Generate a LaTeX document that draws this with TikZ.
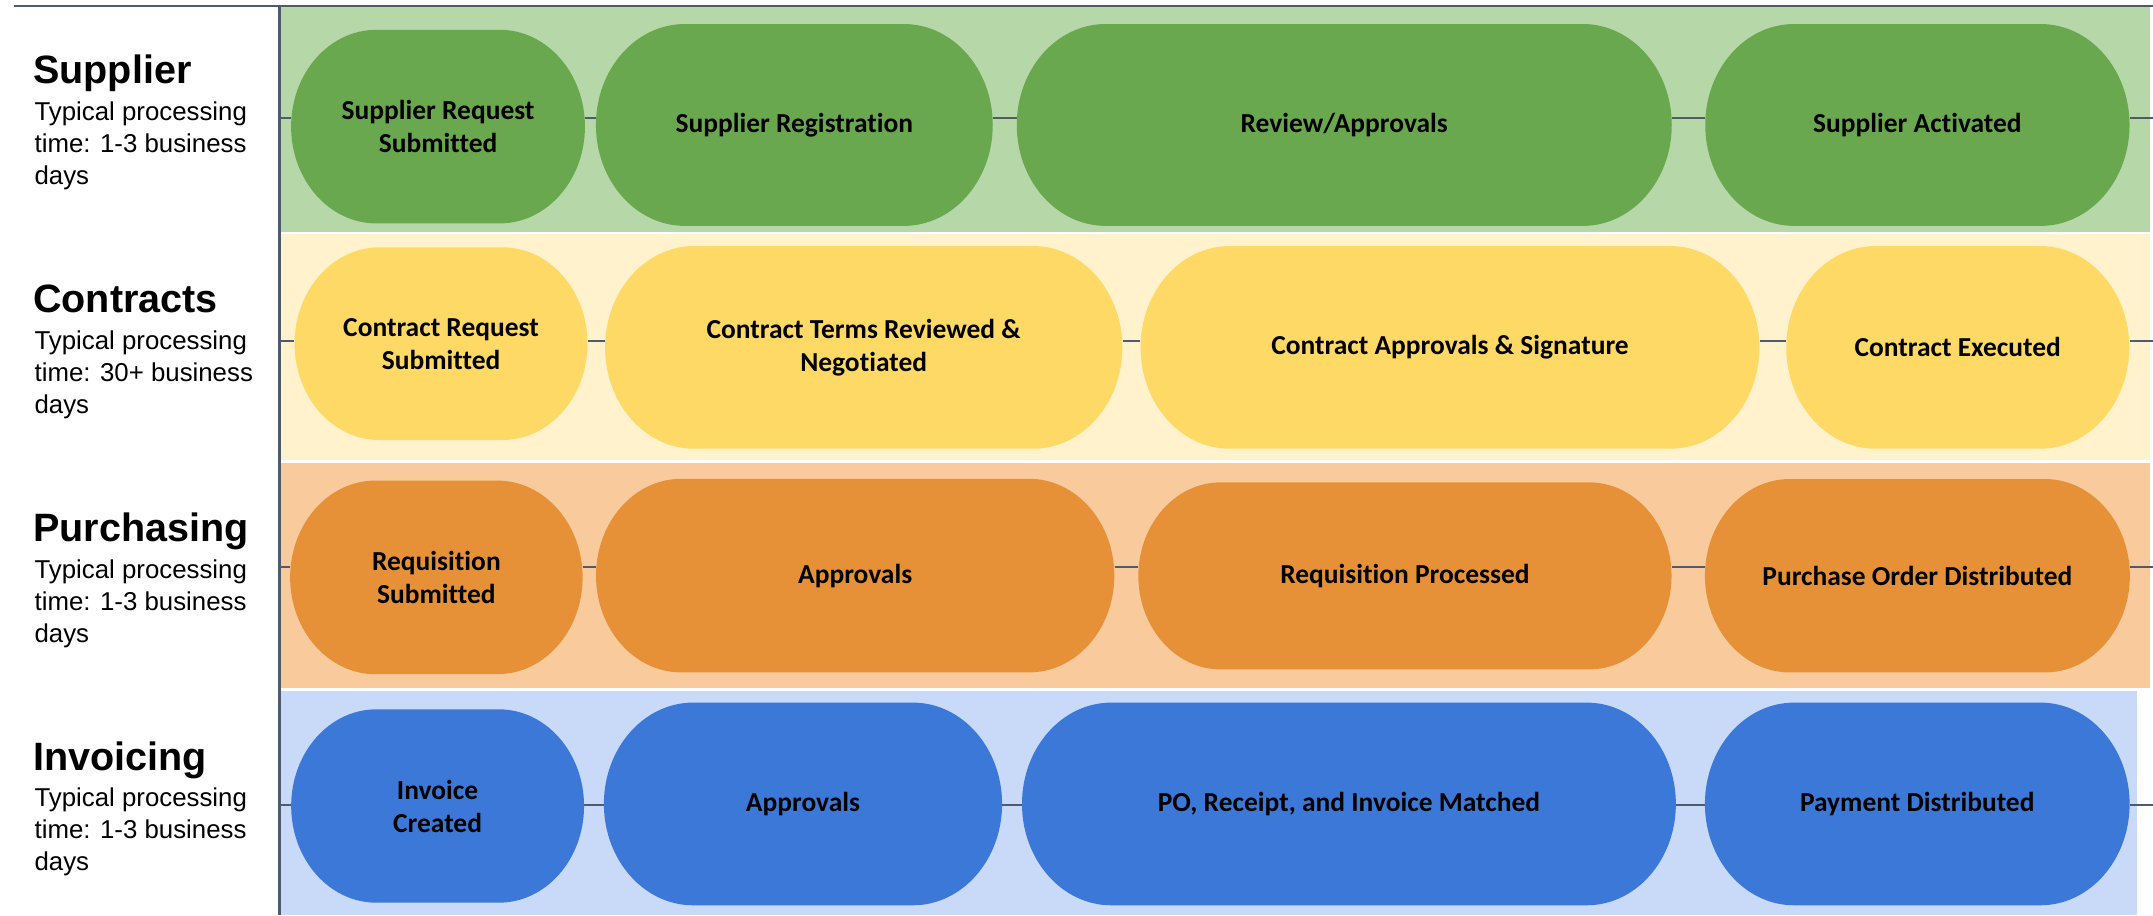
\documentclass[tikz,border=0pt]{standalone}
\usepackage{fontspec}
\setmainfont{Liberation Sans}
\newfontfamily\stagefont{Carlito}[Ligatures={NoCommon}]
\definecolor{lineC}{HTML}{4E5B6E}
\definecolor{supBand}{HTML}{B6D7A8}
\definecolor{supNode}{HTML}{6AA84F}
\definecolor{conBand}{HTML}{FFF2CC}
\definecolor{conNode}{HTML}{FFD966}
\definecolor{purBand}{HTML}{F9CB9C}
\definecolor{purNode}{HTML}{E69138}
\definecolor{invBand}{HTML}{C9DAF8}
\definecolor{invNode}{HTML}{3C78D8}
\pgfdeclarelayer{bands}
\pgfdeclarelayer{lines}
\pgfdeclarelayer{shapes}
\pgfsetlayers{bands,lines,shapes,main}
\tikzset{
  stagetext/.style={rectangle, inner sep=0pt, align=center, text=black,
    font=\stagefont\bfseries\fontsize{20}{24}\selectfont},
  conn/.style={draw=lineC, line width=1.5pt},
  frame/.style={draw=lineC, line width=1.6pt},
  head/.style={anchor=base west, inner sep=0pt, font=\bfseries\fontsize{28.8}{34}\selectfont},
  subtext/.style={anchor=base west, inner sep=0pt, font=\fontsize{18.8}{23}\selectfont},
}
% name, cx, cy, w, h, colour, text
\newcommand\stagenode[7]{%
  \begin{pgfonlayer}{shapes}
    \fill[#6] ({#2-#4/2+0.44*#5},{#3-#5/2}) -- ({#2+#4/2-0.44*#5},{#3-#5/2})
      arc[start angle=-90,end angle=90,x radius={0.44*#5},y radius={#5/2}]
      -- ({#2-#4/2+0.44*#5},{#3+#5/2})
      arc[start angle=90,end angle=270,x radius={0.44*#5},y radius={#5/2}] -- cycle;
  \end{pgfonlayer}
  \node[stagetext, minimum width=#4pt, minimum height=#5pt] (#1) at (#2,#3) {#7};
}
\begin{document}
\begin{tikzpicture}[x=1pt,y=-1pt]
\useasboundingbox (0,0) rectangle (1568,666.4);
\begin{pgfonlayer}{bands}
  \fill[white] (0,0) rectangle (1568,666.4);
  \fill[supBand] (205,5.3) rectangle (1566,168.7);
  \fill[conBand] (205,170.6) rectangle (1566,335);
  \fill[purBand] (205,337) rectangle (1566,501);
  \fill[invBand] (205,503.2) rectangle (1556,666.4);
\end{pgfonlayer}

% lane labels
\node[head] (supH) at (24,60.7) {Supplier};
\node[subtext] (supT1) at (25,87.9) {Typical processing};
\node[subtext] (supT2) at (25,111.2) {time: 1-3 business};
\node[subtext] (supT3) at (25,134.5) {days};

\node[head] (conH) at (24,227.7) {Contracts};
\node[subtext] (conT1) at (25,254.4) {Typical processing};
\node[subtext] (conT2) at (25,277.7) {time: 30+ business};
\node[subtext] (conT3) at (25,301) {days};

\node[head] (purH) at (24,394.5) {Purchasing};
\node[subtext] (purT1) at (25,421.2) {Typical processing};
\node[subtext] (purT2) at (25,444.5) {time: 1-3 business};
\node[subtext] (purT3) at (25,467.8) {days};

\node[head] (invH) at (24,561.3) {Invoicing};
\node[subtext] (invT1) at (25,587.5) {Typical processing};
\node[subtext] (invT2) at (25,610.8) {time: 1-3 business};
\node[subtext] (invT3) at (25,634.1) {days};

% stages
\stagenode{S1}{319}{92.2}{214}{141}{supNode}{Supplier Request\\Submitted}
\stagenode{S2}{578.5}{91}{289}{147}{supNode}{Supplier Registration}
\stagenode{S3}{979}{91}{477}{147}{supNode}{Review/Approvals}
\stagenode{S4}{1396.4}{91}{309}{147}{supNode}{Supplier Activated}

\stagenode{C1}{321.2}{250.3}{213.3}{140.3}{conNode}{Contract Request\\Submitted}
\stagenode{C2}{629}{253}{376.7}{147.6}{conNode}{Contract Terms Reviewed \&\\Negotiated}
\stagenode{C3}{1056}{253}{450.7}{147.6}{conNode}{Contract Approvals \& Signature}
\stagenode{C4}{1425.8}{253}{249.8}{147.6}{conNode}{Contract Executed}

\stagenode{P1}{317.8}{420.5}{213}{141}{purNode}{Requisition\\Submitted}
\stagenode{P2}{622.8}{419.2}{377.5}{141}{purNode}{Approvals}
\stagenode{P3}{1023.2}{419.4}{388.3}{136.2}{purNode}{Requisition Processed}
\stagenode{P4}{1396.4}{419.3}{309.5}{140.9}{purNode}{Purchase Order Distributed}

\stagenode{I1}{318.7}{587}{213.3}{140.8}{invNode}{Invoice\\Created}
\stagenode{I2}{584.8}{585.5}{290}{147.6}{invNode}{Approvals}
\stagenode{I3}{982.4}{585.5}{476.2}{147.6}{invNode}{PO, Receipt, and Invoice Matched}
\stagenode{I4}{1396.3}{585.5}{309.3}{147.6}{invNode}{Payment Distributed}

\begin{pgfonlayer}{lines}
  \coordinate (topL) at (10,4.4);
  \coordinate (topR) at (1568,4.4);
  \coordinate (axT) at (203.5,4.4);
  \coordinate (axB) at (203.5,666.4);
  \draw[frame] (topL) -- (topR);
  \draw[frame] (axT) -- (axB);

  \coordinate (supL) at (203.5,86.2);  \coordinate (supR) at (1568,86.2);
  \coordinate (conL) at (203.5,248.5); \coordinate (conR) at (1568,248.5);
  \coordinate (purL) at (203.5,413);   \coordinate (purR) at (1568,413);
  \coordinate (invL) at (203.5,586);   \coordinate (invR) at (1568,586);

  \draw[conn] (supL) -- (S1.west |- supL);
  \draw[conn] (S1.east |- supL) -- (S2.west |- supL);
  \draw[conn] (S2.east |- supL) -- (S3.west |- supL);
  \draw[conn] (S3.east |- supL) -- (S4.west |- supL);
  \draw[conn] (S4.east |- supL) -- (supR);

  \draw[conn] (conL) -- (C1.west |- conL);
  \draw[conn] (C1.east |- conL) -- (C2.west |- conL);
  \draw[conn] (C2.east |- conL) -- (C3.west |- conL);
  \draw[conn] (C3.east |- conL) -- (C4.west |- conL);
  \draw[conn] (C4.east |- conL) -- (conR);

  \draw[conn] (purL) -- (P1.west |- purL);
  \draw[conn] (P1.east |- purL) -- (P2.west |- purL);
  \draw[conn] (P2.east |- purL) -- (P3.west |- purL);
  \draw[conn] (P3.east |- purL) -- (P4.west |- purL);
  \draw[conn] (P4.east |- purL) -- (purR);

  \draw[conn] (invL) -- (I1.west |- invL);
  \draw[conn] (I1.east |- invL) -- (I2.west |- invL);
  \draw[conn] (I2.east |- invL) -- (I3.west |- invL);
  \draw[conn] (I3.east |- invL) -- (I4.west |- invL);
  \draw[conn] (I4.east |- invL) -- (invR);
\end{pgfonlayer}
\end{tikzpicture}
\end{document}
